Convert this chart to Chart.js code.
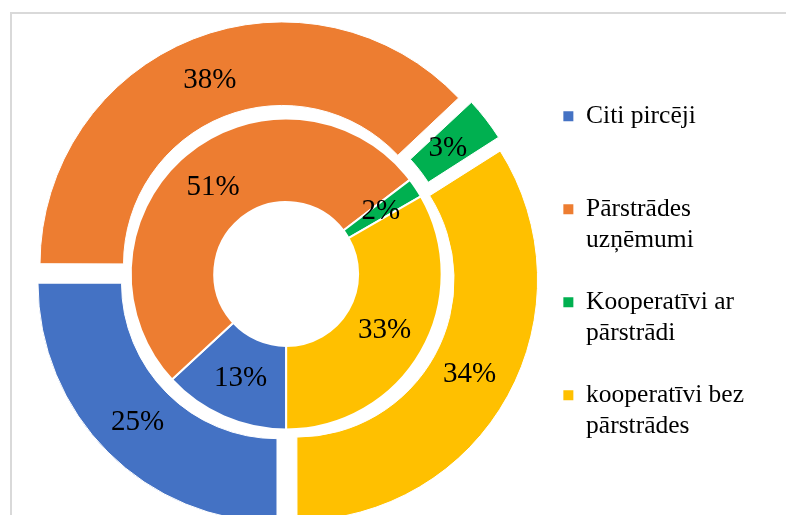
<!DOCTYPE html>
<html lang="lv">
<head>
  <meta charset="UTF-8">
  <title>Pircēju struktūra</title>
  <style>
    html, body {
      margin: 0;
      padding: 0;
      background: #fff;
      overflow: hidden;
    }
    .frame {
      position: absolute;
      left: 10px;
      top: 12px;
      width: 800px;
      height: 520px;
      border-left: 2px solid #d9d9d9;
      border-top: 2px solid #d9d9d9;
    }
    canvas {
      position: absolute;
      left: 0;
      top: 0;
    }
  </style>
</head>
<body>
  <div class="frame"></div>
  <canvas id="buyersChart" width="786" height="515"></canvas>

  <script src="https://cdn.jsdelivr.net/npm/chart.js@4.4.0/dist/chart.umd.min.js"></script>
  <script>
    const categories = ['Citi pircēji', 'Pārstrādes uzņēmumi', 'Kooperatīvi ar pārstrādi', 'kooperatīvi bez pārstrādes'];
    const outerValues = [25, 38, 3, 34];   // outer ring, %
    const innerValues = [13, 51, 2, 33];   // inner ring, %
    const colors = ['#4472C4', '#ED7D31', '#00B050', '#FFC000'];

    const serif = "'Liberation Serif', 'Times New Roman', serif";

    // break a legend entry into lines no wider than maxWidth
    function wrapLabel(ctx, text, maxWidth) {
      const words = text.split(' ');
      const lines = [];
      let line = '';
      words.forEach(w => {
        const test = line ? line + ' ' + w : w;
        if (line && ctx.measureText(test).width > maxWidth) {
          lines.push(line);
          line = w;
        } else {
          line = test;
        }
      });
      lines.push(line);
      return lines;
    }

    // percentage text in the middle of every slice
    const percentLabels = {
      id: 'percentLabels',
      afterDatasetsDraw(chart) {
        const ctx = chart.ctx;
        ctx.save();
        ctx.font = '29px ' + serif;
        ctx.fillStyle = '#000';
        ctx.textAlign = 'center';
        ctx.textBaseline = 'middle';
        chart.data.datasets.forEach((ds, di) => {
          chart.getDatasetMeta(di).data.forEach((arc, i) => {
            const mid = (arc.startAngle + arc.endAngle) / 2;
            const r = (arc.innerRadius + arc.outerRadius) / 2 + (arc.options.offset || 0) / 4;
            ctx.fillText(ds.data[i] + '%', arc.x + Math.cos(mid) * r, arc.y + Math.sin(mid) * r);
          });
        });
        ctx.restore();
      }
    };

    const ctx = document.getElementById('buyersChart').getContext('2d');

    new Chart(ctx, {
      type: 'doughnut',
      data: {
        labels: categories,
        datasets: [
          {
            data: outerValues,
            backgroundColor: colors,
            borderColor: '#fff',
            borderWidth: 1,
            offset: [52, 42, 30, 48],
            hoverOffset: 0
          },
          {
            data: innerValues,
            backgroundColor: colors,
            borderColor: '#fff',
            borderWidth: 2,
            hoverOffset: 0
          }
        ]
      },
      options: {
        responsive: false,
        animation: false,
        rotation: 180,
        radius: 239,
        cutout: '30.1%',
        layout: {
          padding: { left: 40, right: 32, top: 33, bottom: 0 }
        },
        plugins: {
          tooltip: { enabled: false },
          legend: {
            position: 'right',
            align: 'center',
            labels: {
              boxWidth: 10,
              boxHeight: 10,
              padding: 31,
              color: '#000',
              font: { family: serif, size: 25.5, lineHeight: 1.216 },
              generateLabels(chart) {
                const items = Chart.overrides.doughnut.plugins.legend.labels.generateLabels(chart);
                const c = chart.ctx;
                c.save();
                c.font = '25.5px ' + serif;
                items.forEach(item => {
                  const lines = wrapLabel(c, item.text, 180);
                  while (lines.length < 2) lines.push('');
                  item.text = lines;
                  item.lineWidth = 0;
                });
                c.restore();
                return items;
              }
            }
          }
        }
      },
      plugins: [percentLabels]
    });
  </script>
</body>
</html>
